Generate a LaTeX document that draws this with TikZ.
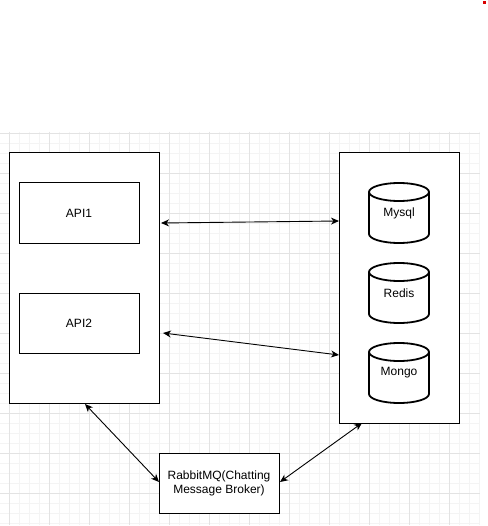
\documentclass[tikz,border=0pt]{standalone}
\usepackage{fontspec}
\setmainfont{Liberation Sans}
\usetikzlibrary{arrows.meta}
\begin{document}
\begin{tikzpicture}[x=1pt,y=-1pt,
  box/.style={draw=black,line width=1pt,fill=white,inner sep=0pt},
  lbl/.style={font=\fontsize{12}{14}\selectfont,align=center,text=black},
  link/.style={line width=0.9pt,black,{Stealth[length=8pt,width=7pt,inset=2.5pt]}-{Stealth[length=8pt,width=7pt,inset=2.5pt]}},
  minorgrid/.style={draw=gray!9,line width=0.8pt},
  majorgrid/.style={draw=gray!22,line width=0.8pt},
  cyl/.style={draw=black,line width=1.8pt,fill=white}]
\useasboundingbox (0,0) rectangle (487,526);
\fill[white] (0,0) rectangle (487,526);
% grid
\foreach \k in {0,...,47}{\draw[minorgrid] (9+10*\k,132) -- (9+10*\k,525);}
\foreach \k in {0,...,39}{\draw[minorgrid] (0,133+10*\k) -- (480,133+10*\k);}
\foreach \k in {0,...,11}{\draw[majorgrid] (9+40*\k,132) -- (9+40*\k,525);}
\foreach \k in {0,...,9}{\draw[majorgrid] (0,133+40*\k) -- (480,133+40*\k);}
% red dot
\fill[red!85!black] (483,1) rectangle (486,4);
% containers
\node[box,minimum width=150pt,minimum height=250pt] (left) at (84,278) {};
\node[box,minimum width=120pt,minimum height=270pt] (right) at (399,288) {};
% APIs
\node[box,lbl,minimum width=120pt,minimum height=60pt] (api1) at (79,213) {API1};
\node[box,lbl,minimum width=120pt,minimum height=60pt] (api2) at (79,323) {API2};
% RabbitMQ
\node[box,lbl,minimum width=120pt,minimum height=60pt] (mq) at (219,483) {RabbitMQ(Chatting\\Message Broker)};
% cylinders
\foreach \nm/\yt/\tx in {mysql/183/Mysql, redis/263/Redis, mongo/343/Mongo}{
  \draw[cyl] (369,\yt+9) -- (369,\yt+51) arc[start angle=180,end angle=360,x radius=30pt,y radius=9pt] -- (429,\yt+9);
  \draw[cyl] (399,\yt+9) ellipse[x radius=30pt,y radius=9pt];
  \node[lbl] (\nm) at (399,\yt+30) {\tx};
}
% connector end points
\coordinate (a1l) at (161,223);
\coordinate (a1r) at (339,221);
\coordinate (a2l) at (163,333);
\coordinate (a2r) at (339,355);
\coordinate (lb) at (85,404);
\coordinate (mql) at (159,482);
\coordinate (mqr) at (280,482);
\coordinate (rb) at (362,423);
\draw[link] (a1l) -- (a1r);
\draw[link] (a2l) -- (a2r);
\draw[link] (lb) -- (mql);
\draw[link] (mqr) -- (rb);
\end{tikzpicture}
\end{document}
